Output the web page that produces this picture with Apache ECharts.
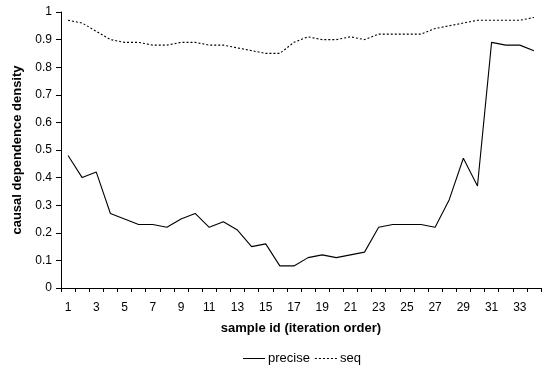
<!DOCTYPE html>
<html>
<head>
<meta charset="utf-8">
<script src="https://cdn.jsdelivr.net/npm/echarts@6/dist/echarts.min.js"></script>
<style>html,body{margin:0;padding:0;background:#fff}#c{width:547px;height:366px}</style>
</head>
<body>
<div id="c"></div>
<script>
var categories = [];
for (var i = 1; i <= 34; i++) categories.push(String(i));
var precise = [0.48, 0.40, 0.42, 0.27, 0.25, 0.23, 0.23, 0.22, 0.25, 0.27, 0.22, 0.24, 0.21, 0.15, 0.16, 0.08, 0.08, 0.11, 0.12, 0.11, 0.12, 0.13, 0.22, 0.23, 0.23, 0.23, 0.22, 0.32, 0.47, 0.37, 0.89, 0.88, 0.88, 0.86];
var seq = [0.97, 0.96, 0.93, 0.90, 0.89, 0.89, 0.88, 0.88, 0.89, 0.89, 0.88, 0.88, 0.87, 0.86, 0.85, 0.85, 0.89, 0.91, 0.90, 0.90, 0.91, 0.90, 0.92, 0.92, 0.92, 0.92, 0.94, 0.95, 0.96, 0.97, 0.97, 0.97, 0.97, 0.98];

var font = 'Liberation Sans, Arial, sans-serif';
var chart = echarts.init(document.getElementById('c'), null, {renderer: 'canvas'});
chart.setOption({
  animation: false,
  backgroundColor: '#fff',
  textStyle: {fontFamily: font, color: '#000'},
  grid: {left: 61, right: 6, top: 12, bottom: 78, containLabel: false},
  legend: {
    bottom: 1, left: 243, padding: 0,
    itemWidth: 22, itemHeight: 2, itemGap: 5,
    icon: 'path://M0,0 L22,0 L22,1 L0,1 Z',
    textStyle: {fontFamily: font, fontSize: 13, color: '#000', padding: [0,0,0,-2]},
    data: [
      {name: 'precise', itemStyle: {color: '#000'}},
      {name: 'seq', itemStyle: {color: '#000'}, icon: 'path://M0,0 L2,0 L2,1 L0,1 Z M4,0 L6,0 L6,1 L4,1 Z M8,0 L10,0 L10,1 L8,1 Z M12,0 L14,0 L14,1 L12,1 Z M16,0 L18,0 L18,1 L16,1 Z M20,0 L22,0 L22,1 L20,1 Z'}
    ]
  },
  xAxis: {
    type: 'category',
    data: categories,
    boundaryGap: true,
    name: 'sample id (iteration order)',
    nameLocation: 'middle',
    nameGap: 34,
    nameTextStyle: {fontFamily: font, fontSize: 13, fontWeight: 'bold', color: '#000'},
    axisLine: {lineStyle: {color: '#000', width: 1}},
    axisTick: {show: true, alignWithLabel: false, interval: 0, length: 4, lineStyle: {color: '#000'}},
    axisLabel: {interval: 1, fontFamily: font, fontSize: 12, color: '#000', margin: 14},
    splitLine: {show: false}
  },
  yAxis: {
    type: 'value',
    min: 0, max: 1, interval: 0.1,
    name: 'causal dependence density',
    nameLocation: 'middle',
    nameGap: 32,
    nameTextStyle: {fontFamily: font, fontSize: 13, fontWeight: 'bold', color: '#000'},
    axisLine: {show: true, lineStyle: {color: '#000', width: 1}},
    axisTick: {show: true, length: 5, lineStyle: {color: '#000'}},
    axisLabel: {fontFamily: font, fontSize: 12, color: '#000', margin: 9,
      formatter: function (v) { return String(Math.round(v * 10) / 10); }},
    splitLine: {show: false}
  },
  series: [
    {name: 'precise', type: 'line', data: precise, symbol: 'none',
     lineStyle: {color: '#000', width: 1.1}, itemStyle: {color: '#000'}},
    {name: 'seq', type: 'line', data: seq, symbol: 'none',
     lineStyle: {color: '#000', width: 1.1, type: [2, 2]}, itemStyle: {color: '#000'}}
  ]
});
</script>
</body>
</html>
